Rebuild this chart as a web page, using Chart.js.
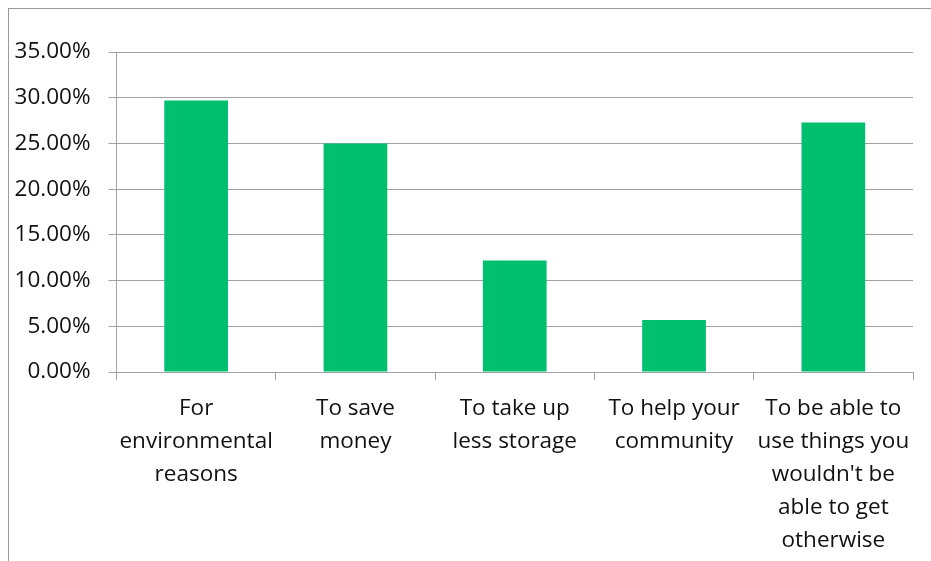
<!DOCTYPE html>
<html>
<head>
<meta charset="utf-8">
<script src="https://cdn.jsdelivr.net/npm/chart.js@4/dist/chart.umd.min.js"></script>
<style>
  html, body { margin: 0; padding: 0; background: #fff; overflow: hidden; }
  #wrap { position: relative; width: 931px; height: 561px; }
  #frame { position: absolute; left: 8px; top: 8px; width: 960px; height: 600px;
           border-top: 1px solid #9a9a9a; border-left: 1px solid #9a9a9a; }
  canvas { position: absolute; left: 0; top: 0; }
</style>
</head>
<body>
<div id="wrap">
  <div id="frame"></div>
  <canvas id="chart" width="931" height="561"></canvas>
</div>
<script>
// reasons (labels split into lines like the original)
var categories = [
    ["For", "environmental", "reasons"],
    ["To save", "money"],
    ["To take up", "less storage"],
    ["To help your", "community"],
    ["To be able to", "use things you", "wouldn't be", "able to get", "otherwise"]
];
var values = [29.7, 25.0, 12.2, 5.7, 27.3];
var yTicks = [0, 5, 10, 15, 20, 25, 30, 35];

var barColor = "#00bf6f";
var gridColor = "#a2a2a2";
var fontFamily = "'Open Sans', 'Noto Sans', sans-serif";

var ctx = document.getElementById("chart").getContext("2d");

var chart = new Chart(ctx, {
    type: "bar",
    data: {
        labels: categories,
        datasets: [{
            data: values,
            backgroundColor: barColor,
            borderWidth: 0,
            categoryPercentage: 1,
            barPercentage: 0.4
        }]
    },
    options: {
        responsive: false,
        animation: false,
        layout: { padding: { top: 52, right: 18, left: 0, bottom: 0 } },
        plugins: {
            legend: { display: false },
            tooltip: { enabled: false }
        },
        scales: {
            x: {
                grid: {
                    drawOnChartArea: false,
                    drawTicks: true,
                    tickLength: 8,
                    color: gridColor,
                    offset: true
                },
                border: { color: gridColor, width: 1 },
                ticks: {
                    color: "#111",
                    font: { family: fontFamily, size: 22.5, lineHeight: "33px" },
                    padding: 12,
                    maxRotation: 0,
                    autoSkip: false
                },
                afterFit: function (axis) { axis.height = 189; }
            },
            y: {
                min: 0,
                max: 35,
                afterBuildTicks: function (axis) {
                    axis.ticks = yTicks.map(function (v) { return { value: v }; });
                },
                grid: {
                    color: gridColor,
                    lineWidth: 1,
                    tickLength: 8
                },
                border: { color: gridColor, width: 1 },
                ticks: {
                    color: "#111",
                    font: { family: fontFamily, size: 22.5 },
                    padding: 18,
                    callback: function (v) { return v.toFixed(2) + "%"; }
                },
                afterFit: function (axis) { axis.width = 116.5; }
            }
        }
    }
});
</script>
</body>
</html>
